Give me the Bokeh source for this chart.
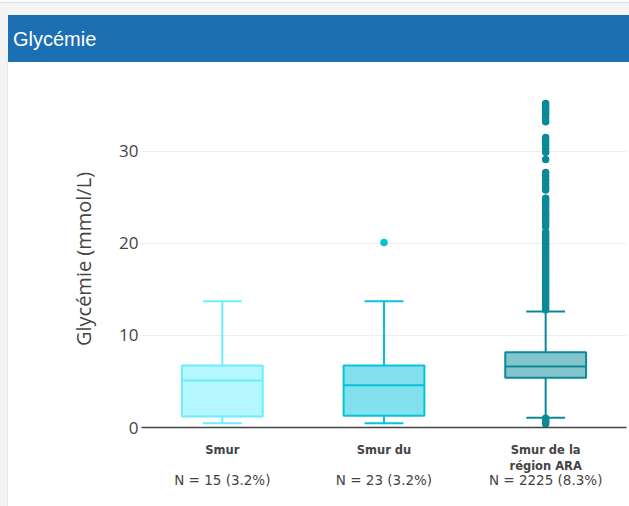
from bokeh.plotting import figure
from bokeh.models import Range1d, FixedTicker, LinearAxis, Div, ColumnDataSource
from bokeh.layouts import column, row
from bokeh.transform import dodge
from bokeh.embed import file_html
from bokeh.resources import INLINE

# ---- data ----
categories = ["Smur", "Smur du", "Smur de la\nrégion ARA"]
n_labels = ["N = 15 (3.2%)", "N = 23 (3.2%)", "N = 2225 (8.3%)"]
q1 = [1.19, 1.27, 5.4]
median = [5.1, 4.6, 6.62]
q3 = [6.73, 6.73, 8.18]
lower_whisker = [0.47, 0.47, 1.05]
upper_whisker = [13.7, 13.7, 12.6]
colors = ["#6beffd", "#05c3d9", "#0a8a99"]
outliers_smur_du = [20.1]
outliers_ara = [35.2, 34.9, 34.6, 34.3, 34.0, 33.6, 33.2, 31.5, 31.1, 30.7, 30.3, 29.9,
                29.1, 27.7, 27.3, 26.9, 26.5, 26.1, 25.8,
                24.9, 24.6, 24.3, 24.0, 23.6, 23.3, 23.0, 22.7, 22.4, 22.1, 21.8, 21.2,
                20.9, 20.6, 20.3, 20.0, 19.7, 19.4, 19.1, 18.8, 18.5, 18.2, 17.9, 17.6,
                17.3, 17.0, 16.7, 16.4, 16.1, 15.8, 15.5, 15.2, 14.9, 14.6, 14.3, 14.0,
                13.7, 13.4, 13.1, 12.8, 1.0, 0.8, 0.6, 0.4]
y_ticks = [0, 10, 20, 30]

positions = [i + 0.5 for i in range(len(categories))]

src = ColumnDataSource(dict(x=positions, q1=q1, q3=q3, med=median,
                            lo=lower_whisker, hi=upper_whisker, color=colors))

header = Div(
    text=('<div style="width:629px;height:62px;background:#f4f4f4;position:relative;">'
          '<div style="position:absolute;left:0px;top:0px;width:629px;height:3px;'
          'background:#fbfbfb;border-bottom:1px solid #e2e2e2;"></div>'
          '<div style="position:absolute;left:8px;top:15px;width:621px;height:47px;'
          'background:#1c6fb2;color:#ffffff;font-family:\'Liberation Sans\',Arial,sans-serif;'
          'font-size:20px;line-height:49px;padding-left:5px;box-sizing:border-box;">Glycémie</div></div>'),
    width=629, height=62, margin=(0, 0, 0, 0))

strip = Div(text=('<div style="width:8px;height:444px;background:#f4f4f4;'
                  'border-right:1px solid #e6e6e6;box-sizing:border-box;"></div>'),
            width=8, height=444, margin=(0, 0, 0, 0))

p = figure(width=621, height=444, output_backend="svg", toolbar_location=None,
           x_range=Range1d(0, 3), y_range=Range1d(0, 36.6),
           min_border_left=133, min_border_right=3, min_border_top=28, min_border_bottom=79,
           margin=(0, 0, 0, 0))
p.outline_line_color = None
p.xgrid.grid_line_color = None
p.ygrid.grid_line_color = "#eeeeee"
p.ygrid.ticker = FixedTicker(ticks=y_ticks)

yax = p.yaxis[0]
yax.ticker = FixedTicker(ticks=y_ticks)
yax.axis_line_color = None
yax.major_tick_line_color = None
yax.minor_tick_line_color = None
yax.major_label_text_font = "Open Sans"
yax.major_label_text_font_size = "17px"
yax.major_label_text_color = "#444444"
yax.major_label_standoff = -3
yax.axis_label = "Glycémie (mmol/L)"
yax.axis_label_text_font = "Open Sans"
yax.axis_label_text_font_size = "20px"
yax.axis_label_text_font_style = "normal"
yax.axis_label_text_color = "#444444"
yax.axis_label_standoff = 19

xax = p.xaxis[0]
xax.ticker = FixedTicker(ticks=positions)
xax.major_label_overrides = {pos: c for pos, c in zip(positions, categories)}
xax.axis_line_color = "#444444"
xax.axis_line_width = 1.5
xax.major_tick_line_color = None
xax.minor_tick_line_color = None
xax.major_label_text_font = "DejaVu Sans"
xax.major_label_text_font_style = "bold"
xax.major_label_text_font_size = "11.5px"
xax.major_label_text_color = "#444444"
xax.major_label_text_line_height = 1.15
xax.major_label_standoff = 9

nax = LinearAxis(ticker=FixedTicker(ticks=positions),
                 major_label_overrides={pos: n for pos, n in zip(positions, n_labels)})
nax.axis_line_color = None
nax.major_tick_line_color = None
nax.minor_tick_line_color = None
nax.major_label_text_font = "DejaVu Sans"
nax.major_label_text_font_size = "13.5px"
nax.major_label_text_color = "#444444"
nax.major_label_standoff = -10
p.add_layout(nax, "below")

# boxes
p.vbar(x="x", width=0.5, top="q3", bottom="q1", source=src,
       fill_color="color", fill_alpha=0.5, line_color="color", line_width=2)
p.segment(x0=dodge("x", -0.25), y0="med", x1=dodge("x", 0.25), y1="med", source=src,
          line_color="color", line_width=2)
p.segment(x0="x", y0="q3", x1="x", y1="hi", source=src, line_color="color", line_width=2)
p.segment(x0="x", y0="q1", x1="x", y1="lo", source=src, line_color="color", line_width=2)
p.segment(x0=dodge("x", -0.12), y0="hi", x1=dodge("x", 0.12), y1="hi", source=src,
          line_color="color", line_width=2)
p.segment(x0=dodge("x", -0.12), y0="lo", x1=dodge("x", 0.12), y1="lo", source=src,
          line_color="color", line_width=2)

# outliers
p.scatter(x=[positions[1]] * len(outliers_smur_du), y=outliers_smur_du, size=7.5,
          color=colors[1], line_color=None)
p.scatter(x=[positions[2]] * len(outliers_ara), y=outliers_ara, size=7.5,
          color=colors[2], line_color=None)

layout = column(header, row(strip, p, spacing=0), spacing=0)
open("out.html", "w").write(file_html(layout, INLINE))
